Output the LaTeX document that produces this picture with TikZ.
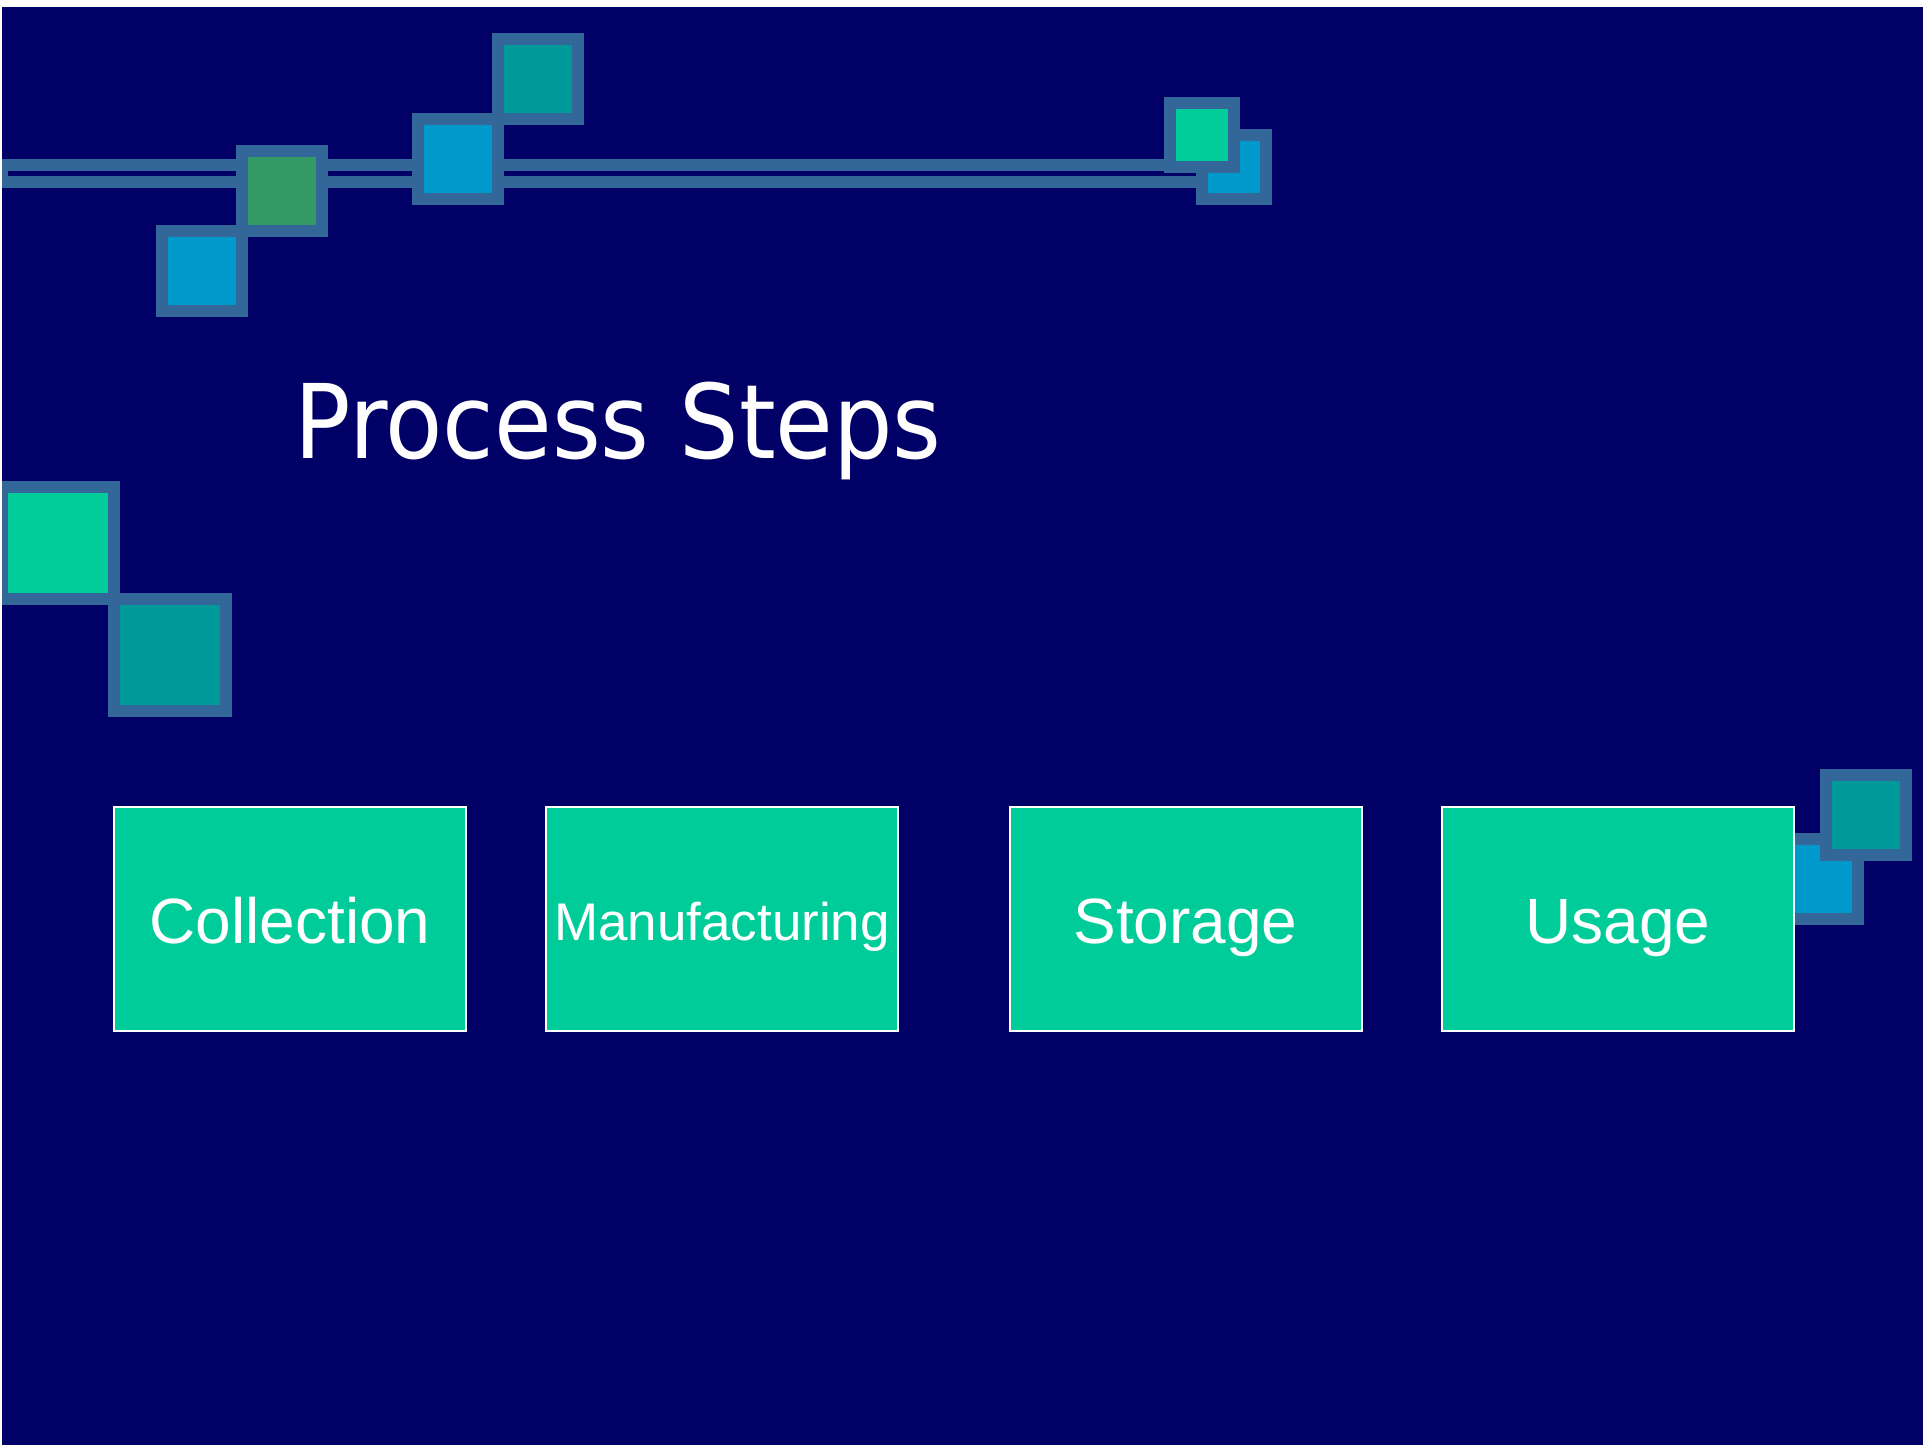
\documentclass[tikz,border=0pt]{standalone}
\usepackage{fontspec}
\usepackage{tikz}

\newfontfamily\boxfont{Liberation Sans}
\newfontfamily\titlefont[FakeStretch=0.91]{DejaVu Sans}

\definecolor{slidebg}{HTML}{000066}
\definecolor{steel}{HTML}{336699}
\definecolor{mint}{HTML}{00CC99}
\definecolor{sky}{HTML}{0099CC}
\definecolor{teal}{HTML}{009999}
\definecolor{leaf}{HTML}{339966}

\begin{document}
\begin{tikzpicture}[x=1pt, y=-1pt,
		tile/.style={draw=steel, line width=12pt},
		stepbox/.style={draw=white, line width=2pt, fill=mint, inner sep=0pt,
			minimum width=352pt, minimum height=224pt, text=white, text depth=0pt},
		bigtext/.style={font=\boxfont\fontsize{64}{70}\selectfont, text height=49pt},
		smalltext/.style={font=\boxfont\fontsize{53}{60}\selectfont, text height=43pt}]
		\useasboundingbox (0,0) rectangle (1923,1445);
		\fill [white] (0,0) rectangle (1923,1445);
		\fill [slidebg] (2,7) rectangle (1923,1445);

		\begin{scope}
		\clip (2,7) rectangle (1923,1445);
		% double rule along the top
		\draw [steel, line width=12pt, line join=miter] (1180,165) -- (2,165) -- (2,182) -- (1210,182);

		\draw [tile, fill=sky] (162,231) rectangle (242,311);
		\draw [tile, fill=leaf] (242,151) rectangle (322,231);
		\draw [tile, fill=sky] (418,119) rectangle (498,199);
		\draw [tile, fill=teal] (498,39) rectangle (578,119);
		\draw [tile, fill=sky] (1202,135) rectangle (1266,199);
		\draw [tile, fill=mint] (1170,103) rectangle (1234,167);

		\draw [tile, fill=mint] (2,487) rectangle (114,599);
		\draw [tile, fill=teal] (114,599) rectangle (226,711);

		\draw [tile, fill=sky] (1778,839) rectangle (1858,919);
		\draw [tile, fill=teal] (1826,775) rectangle (1906,855);
		\end{scope}

		\node (title) [anchor=base west, inner sep=0pt, text=white,
			font=\titlefont\fontsize{103}{110}\selectfont] at (294,458) {Process Steps};

		\node (collection) [stepbox, bigtext] at (290,918.5) {Collection};
		\node (manufacturing) [stepbox, smalltext] at (722,918.5) {Manufacturing};
		\node (storage) [stepbox, bigtext] at (1185.5,918.5) {Storage};
		\node (usage) [stepbox, bigtext] at (1618,918.5) {Usage};

	\end{tikzpicture}
\end{document}
